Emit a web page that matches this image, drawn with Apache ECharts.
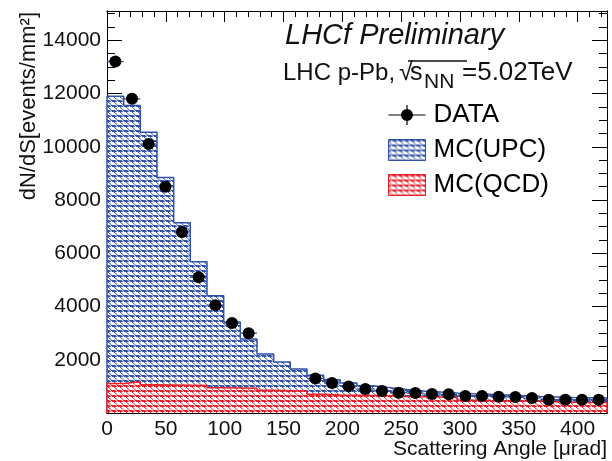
<!DOCTYPE html>
<html>
<head>
<meta charset="utf-8">
<script src="https://cdn.jsdelivr.net/npm/echarts@6/dist/echarts.min.js"></script>
<style>
  html, body { margin: 0; padding: 0; background: #fff; }
  #main { width: 612px; height: 461px; }
</style>
</head>
<body>
<div id="main"></div>
<script>
// bin edges of the scattering angle histogram [urad]
var binEdges = [0, 14.2, 28.3, 42.5, 56.7, 70.8, 85, 99.2, 113.3, 127.5, 141.7, 155.8, 170, 184.2, 198.3,
    212.5, 226.7, 240.8, 255, 269.2, 283.3, 297.5, 311.7, 325.8, 340, 354.2, 368.3, 382.5, 396.7, 410.8, 425];
// measured dN/dS (null = no point in that bin)
var dataVals = [13200, 11800, 10100, 8500, 6800, 5100, 4050, 3380, 3000, null, null, null, 1300, 1130, 1000,
    900, 830, 760, 750, 710, 700, 640, 640, 610, 600, 560, 500, 500, 500, 500];
// MC(UPC) stacked on MC(QCD): height of the blue histogram
var upcStack = [11900, 11550, 10550, 8850, 7150, 5680, 4400, 3420, 2780, 2220, 1920, 1650, 1420, 1250, 1130,
    1020, 950, 880, 830, 790, 750, 720, 700, 680, 650, 620, 600, 580, 570, 560];
// MC(QCD)
var qcdVals = [1110, 1170, 1060, 1050, 1040, 1030, 950, 940, 930, 850, 840, 830, 700, 680, 670,
    660, 650, 620, 610, 600, 580, 480, 470, 460, 450, 440, 420, 400, 390, 390];

var BLUE = '#3152a8';
var RED = '#e8202a';
var FONT = 'Liberation Sans, Arial, sans-serif';

function hatch(col) {
    var c = document.createElement('canvas');
    c.width = 6; c.height = 5;
    var g = c.getContext('2d');
    g.fillStyle = '#fff';
    g.fillRect(0, 0, 6, 5);
    g.fillStyle = col;
    g.fillRect(0, 0, 6, 2);
    g.strokeStyle = col;
    g.lineWidth = 1;
    g.beginPath();
    g.moveTo(0, 2); g.lineTo(3.5, 5);
    g.stroke();
    g.strokeStyle = '#fff';
    g.beginPath();
    g.moveTo(1.5, 0); g.lineTo(4, 2);
    g.stroke();
    return { image: c, repeat: 'repeat' };
}

function stepData(vals) {
    var d = [[binEdges[0], 0]];
    for (var i = 0; i < vals.length; i++) d.push([binEdges[i], vals[i]]);
    d.push([binEdges[vals.length], vals[vals.length - 1]]);
    d.push([binEdges[vals.length], 0]);
    return d;
}

var points = [], bars = [];
dataVals.forEach(function (v, i) {
    if (v == null) return;
    points.push([(binEdges[i] + binEdges[i + 1]) / 2, v]);
    bars.push([binEdges[i], binEdges[i + 1], v]);
});

var blueHatch = hatch(BLUE);
var redHatch = hatch(RED);

var tickLine = { color: '#000', width: 1 };
function xAx(pos, step, len, labels) {
    return {
        type: 'value', position: pos, min: 0, max: 425, interval: step,
        axisLine: { show: true, onZero: false, lineStyle: tickLine },
        axisTick: { show: true, inside: true, length: len, lineStyle: tickLine },
        splitLine: { show: false },
        axisLabel: {
            show: labels, fontSize: 21, color: '#111', fontFamily: FONT, margin: 6,
            formatter: function (v) { return v % 50 === 0 ? String(v) : ''; }
        }
    };
}
function yAx(pos, step, len, labels) {
    return {
        type: 'value', position: pos, min: 0, max: 15100, interval: step,
        axisLine: { show: true, onZero: false, lineStyle: tickLine },
        axisTick: { show: true, inside: true, length: len, lineStyle: tickLine },
        splitLine: { show: false },
        axisLabel: {
            show: labels, fontSize: 21, color: '#111', fontFamily: FONT, margin: 6,
            formatter: function (v) { return (v > 0 && v % 2000 === 0) ? String(v) : ''; }
        }
    };
}

var myChart = echarts.init(document.getElementById('main'), null, { renderer: 'canvas' });
var option = {
    animation: false,
    backgroundColor: '#fff',
    grid: { left: 107, right: 5, top: 11, bottom: 48 },
    xAxis: [
        xAx('bottom', 50, 11, true),
        xAx('bottom', 10, 6, false),
        xAx('top', 50, 11, false),
        xAx('top', 10, 6, false)
    ],
    yAxis: [
        yAx('left', 2000, 15, true),
        yAx('left', 500, 8, false),
        yAx('right', 2000, 15, false),
        yAx('right', 500, 8, false)
    ],
    legend: {
        orient: 'vertical',
        left: 388, top: 102, padding: 0,
        itemWidth: 37, itemHeight: 21, itemGap: 9,
        textStyle: { fontSize: 26, color: '#000', fontFamily: FONT, padding: [0, 0, 0, 3] },
        data: [
            { name: 'DATA', icon: 'path://M0,9.4H37V10.6H0Z M17.9,0H19.1V20H17.9Z M18.5,4A6,6,0,1,1,18.49,4Z',
              itemStyle: { color: '#000', opacity: 1 } },
            { name: 'MC(UPC)', icon: 'rect', itemStyle: { color: blueHatch, borderColor: BLUE, borderWidth: 1 } },
            { name: 'MC(QCD)', icon: 'rect', itemStyle: { color: redHatch, borderColor: RED, borderWidth: 1 } }
        ]
    },
    series: [
        {
            name: 'MC(UPC)', type: 'line', step: 'end', data: stepData(upcStack),
            showSymbol: false, z: 2,
            lineStyle: { color: BLUE, width: 1.5 },
            itemStyle: { color: blueHatch },
            areaStyle: { color: blueHatch, opacity: 1 }
        },
        {
            name: 'MC(QCD)', type: 'line', step: 'end', data: stepData(qcdVals),
            showSymbol: false, z: 3,
            lineStyle: { color: RED, width: 1.5 },
            itemStyle: { color: redHatch },
            areaStyle: { color: redHatch, opacity: 1 }
        },
        {
            name: 'DATA errors', type: 'custom', z: 4,
            encode: { x: [0, 1], y: 2 },
            renderItem: function (params, api) {
                var a = api.coord([api.value(0), api.value(2)]);
                var b = api.coord([api.value(1), api.value(2)]);
                return {
                    type: 'line',
                    shape: { x1: a[0], y1: a[1], x2: b[0], y2: b[1] },
                    style: { stroke: BLUE, lineWidth: 1.3 }
                };
            },
            data: bars
        },
        {
            name: 'DATA', type: 'scatter', z: 5,
            symbol: 'circle', symbolSize: 12,
            itemStyle: { color: '#000', opacity: 1 },
            data: points
        }
    ],
    graphic: [
        { type: 'text', x: 285, y: 36, style: { text: 'LHCf Preliminary', font: 'italic 29px ' + FONT,
            fill: '#111', textVerticalAlign: 'middle', verticalAlign: 'middle' } },
        { type: 'text', x: 283, y: 73, style: { text: 'LHC p-Pb,', font: '24px ' + FONT,
            fill: '#111', textVerticalAlign: 'middle', verticalAlign: 'middle' } },
        { type: 'text', x: 399, y: 73, style: { text: '\u221a', font: '25px ' + FONT,
            fill: '#111', textVerticalAlign: 'middle', verticalAlign: 'middle' } },
        { type: 'text', x: 410, y: 73, style: { text: 's', font: '25px ' + FONT,
            fill: '#111', textVerticalAlign: 'middle', verticalAlign: 'middle' } },
        { type: 'text', x: 424, y: 82, style: { text: 'NN', font: '21px ' + FONT,
            fill: '#111', textVerticalAlign: 'middle', verticalAlign: 'middle' } },
        { type: 'line', shape: { x1: 408, y1: 61, x2: 467, y2: 61 }, style: { stroke: '#111', lineWidth: 1.3 } },
        { type: 'text', x: 462, y: 73, style: { text: '=5.02TeV', font: '26px ' + FONT,
            fill: '#111', textVerticalAlign: 'middle', verticalAlign: 'middle' } },
        { type: 'text', x: 29, y: 12, rotation: Math.PI / 2,
            style: { text: 'dN/dS[events/mm\u00b2]', font: '22px ' + FONT, fill: '#111',
                textAlign: 'right', align: 'right', textVerticalAlign: 'middle', verticalAlign: 'middle' } },
        { type: 'text', x: 607, y: 449,
            style: { text: 'Scattering Angle [\u03bcrad]', font: '21px ' + FONT, fill: '#111',
                textAlign: 'right', align: 'right', textVerticalAlign: 'middle', verticalAlign: 'middle' } }
    ]
};
myChart.setOption(option);
</script>
</body>
</html>
